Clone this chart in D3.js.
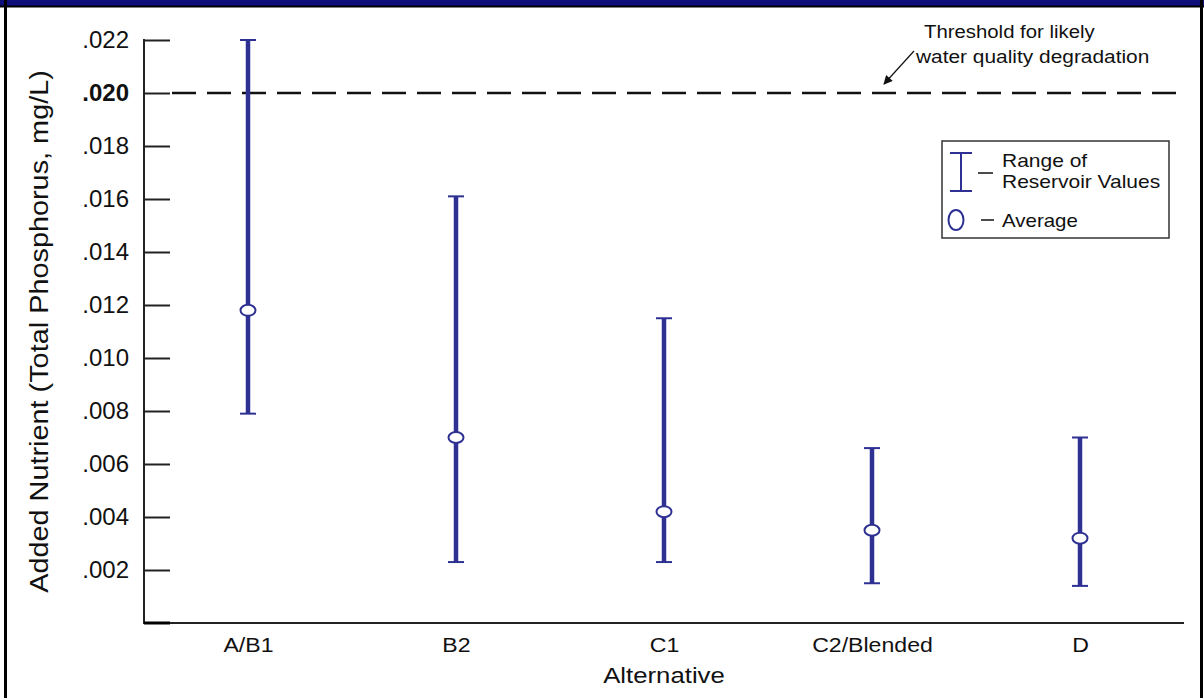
<!DOCTYPE html>
<head>
    <meta charset="utf-8">
    <title>Added Nutrient by Alternative</title>
    <script src="https://d3js.org/d3.v7.min.js"></script>
    <style>
        body{
            margin: 0;
            background: #ffffff;
        }
        text{
            font-family: "Liberation Sans", Arial, sans-serif;
            fill: #111111;
        }
        .yAxis .tick text{
            font-size: 24px;
        }
        .xAxis .tick text{
            font-size: 21px;
        }
        .tick line{
            stroke: #222222;
            stroke-width: 2px;
        }
        path.domain{
            display: none;
        }
        text.axisTitle{
            font-size: 26px;
        }
        text.note{
            font-size: 18.5px;
        }
        text.legendText{
            font-size: 17.5px;
        }
    </style>
</head>
<body>
<script>
    // values
    const alternatives = ["A/B1", "B2", "C1", "C2/Blended", "D"];
    const rangeLow  = [0.0079, 0.0023, 0.0023, 0.0015, 0.0014];
    const rangeHigh = [0.0220, 0.0161, 0.0115, 0.0066, 0.0070];
    const average   = [0.0118, 0.0070, 0.0042, 0.0035, 0.0032];
    const yTicks = [0.002, 0.004, 0.006, 0.008, 0.010, 0.012, 0.014, 0.016, 0.018, 0.020, 0.022];
    const threshold = 0.020;

    const width = 1204, height = 698;
    const barColor = "#2e3192";

    var svg = d3.select("body").append("svg")
        .attr("width", width)
        .attr("height", height);

    // text in the original is a bit wider than Arial, so stretch it sideways
    const addText = function(cls, x, y, sx, str, rot) {
        return svg.append("text")
            .attr("class", cls)
            .attr("transform", `translate(${x},${y})` + (rot ? ` rotate(${rot})` : "") + ` scale(${sx},1)`)
            .text(str);
    };

    // frame
    svg.append("rect")
        .attr("x", 0).attr("y", 0)
        .attr("width", width).attr("height", 6)
        .style("fill", "#0f0f7c");
    svg.append("line")
        .attr("x1", 0).attr("x2", width)
        .attr("y1", 6.5).attr("y2", 6.5)
        .style("stroke", "#000").style("stroke-width", 2);
    svg.append("line")
        .attr("x1", 5.5).attr("x2", 5.5)
        .attr("y1", 0).attr("y2", height)
        .style("stroke", "#000").style("stroke-width", 3);
    svg.append("line")
        .attr("x1", 1201.5).attr("x2", 1201.5)
        .attr("y1", 0).attr("y2", height)
        .style("stroke", "#000").style("stroke-width", 3);

    const margin = {top: 40, left: 144, right: 1184, bottom: 623};

    let x = d3.scalePoint()
        .domain(alternatives)
        .range([margin.left, margin.right])
        .padding(0.5);

    let y = d3.scaleLinear()
        .domain([0, 0.022])
        .range([margin.bottom, margin.top]);

    // y axis: ticks point inward
    let yAxis = d3.axisRight(y)
        .tickValues(yTicks)
        .tickSize(26)
        .tickFormat(d => d3.format(".3f")(d).replace(/^0/, ""));

    let yg = svg.append("g")
        .attr("class", "axis yAxis")
        .attr("transform", `translate(${margin.left},0)`)
        .call(yAxis);
    yg.selectAll(".tick text")
        .attr("x", -15)
        .style("text-anchor", "end")
        .style("font-weight", d => d == threshold ? "bold" : null);

    svg.append("line")
        .attr("x1", margin.left).attr("x2", margin.left)
        .attr("y1", y(0.022) - 1).attr("y2", y(0) + 1)
        .style("stroke", "#222").style("stroke-width", 2);

    // x axis
    let xAxis = d3.axisBottom(x).tickSize(0).tickPadding(13);
    svg.append("g")
        .attr("class", "axis xAxis")
        .attr("transform", `translate(0,${margin.bottom})`)
        .call(xAxis)
        .selectAll(".tick text")
        .attr("y", 29).attr("dy", 0)
        .attr("transform", "scale(1.1,1)");

    svg.append("line")
        .attr("x1", margin.left).attr("x2", margin.right)
        .attr("y1", y(0)).attr("y2", y(0))
        .style("stroke", "#222").style("stroke-width", 2);
    svg.append("line")
        .attr("x1", margin.left).attr("x2", margin.left + 26)
        .attr("y1", y(0)).attr("y2", y(0))
        .style("stroke", "#000").style("stroke-width", 3);

    // axis titles
    addText("axisTitle", 48, (y(0) + y(0.022)) / 2, 1.11, "Added Nutrient (Total Phosphorus, mg/L)", -90)
        .style("text-anchor", "middle");

    addText("axisTitle", x("C1"), 683, 1.17, "Alternative")
        .style("text-anchor", "middle")
        .style("font-size", "22px");

    // threshold line
    svg.append("line")
        .attr("x1", margin.left + 28).attr("x2", margin.right + 1)
        .attr("y1", y(threshold)).attr("y2", y(threshold))
        .style("stroke", "#111")
        .style("stroke-width", 2.5)
        .style("stroke-dasharray", "24,11");

    // annotation
    addText("note", 924, 38, 1.1, "Threshold for likely");
    addText("note", 916, 63, 1.13, "water quality degradation");

    svg.append("defs").append("marker")
        .attr("id", "arrow")
        .attr("viewBox", "0 0 10 10")
        .attr("refX", 9).attr("refY", 5)
        .attr("markerWidth", 10).attr("markerHeight", 9)
        .attr("markerUnits", "userSpaceOnUse")
        .attr("orient", "auto")
        .append("path")
        .attr("d", "M0,0L10,5L0,10z")
        .style("fill", "#111");
    svg.append("line")
        .attr("x1", 914).attr("y1", 51)
        .attr("x2", 884).attr("y2", 84)
        .style("stroke", "#111").style("stroke-width", 1.2)
        .attr("marker-end", "url(#arrow)");

    // error bars
    const rows = alternatives.map((a, i) => ({name: a, low: rangeLow[i], high: rangeHigh[i], avg: average[i]}));

    let bars = svg.selectAll("g.errBar")
        .data(rows)
        .enter()
        .append("g")
        .attr("class", "errBar");

    bars.append("line")
        .attr("x1", d => x(d.name)).attr("x2", d => x(d.name))
        .attr("y1", d => y(d.high)).attr("y2", d => y(d.low))
        .style("stroke", barColor).style("stroke-width", 4.5);

    bars.selectAll("line.cap")
        .data(d => [d.high, d.low].map(v => ({name: d.name, v: v})))
        .enter()
        .append("line")
        .attr("class", "cap")
        .attr("x1", d => x(d.name) - 8).attr("x2", d => x(d.name) + 8)
        .attr("y1", d => y(d.v)).attr("y2", d => y(d.v))
        .style("stroke", barColor).style("stroke-width", 2);

    bars.append("ellipse")
        .attr("cx", d => x(d.name))
        .attr("cy", d => y(d.avg))
        .attr("rx", 7.5).attr("ry", 5.5)
        .style("fill", "#fff")
        .style("stroke", barColor)
        .style("stroke-width", 2);

    // legend
    let legend = svg.append("g").attr("class", "legend");
    legend.append("rect")
        .attr("x", 942).attr("y", 141)
        .attr("width", 227).attr("height", 97)
        .style("fill", "#fff")
        .style("stroke", "#333")
        .style("stroke-width", 1.5);

    legend.append("line")
        .attr("x1", 961).attr("x2", 961).attr("y1", 153).attr("y2", 191)
        .style("stroke", barColor).style("stroke-width", 2);
    [153, 191].forEach(v => legend.append("line")
        .attr("x1", 950).attr("x2", 972).attr("y1", v).attr("y2", v)
        .style("stroke", barColor).style("stroke-width", 2));
    legend.append("line")
        .attr("x1", 978).attr("x2", 993).attr("y1", 173).attr("y2", 173)
        .style("stroke", "#111").style("stroke-width", 1.5);
    addText("legendText", 1002, 167, 1.2, "Range of");
    addText("legendText", 1002, 188, 1.2, "Reservoir Values");

    legend.append("ellipse")
        .attr("cx", 956).attr("cy", 220)
        .attr("rx", 7.5).attr("ry", 10)
        .style("fill", "#fff")
        .style("stroke", barColor)
        .style("stroke-width", 2);
    legend.append("line")
        .attr("x1", 981).attr("x2", 994).attr("y1", 220).attr("y2", 220)
        .style("stroke", "#111").style("stroke-width", 1.5);
    addText("legendText", 1002, 227, 1.17, "Average");
</script>
</body>
